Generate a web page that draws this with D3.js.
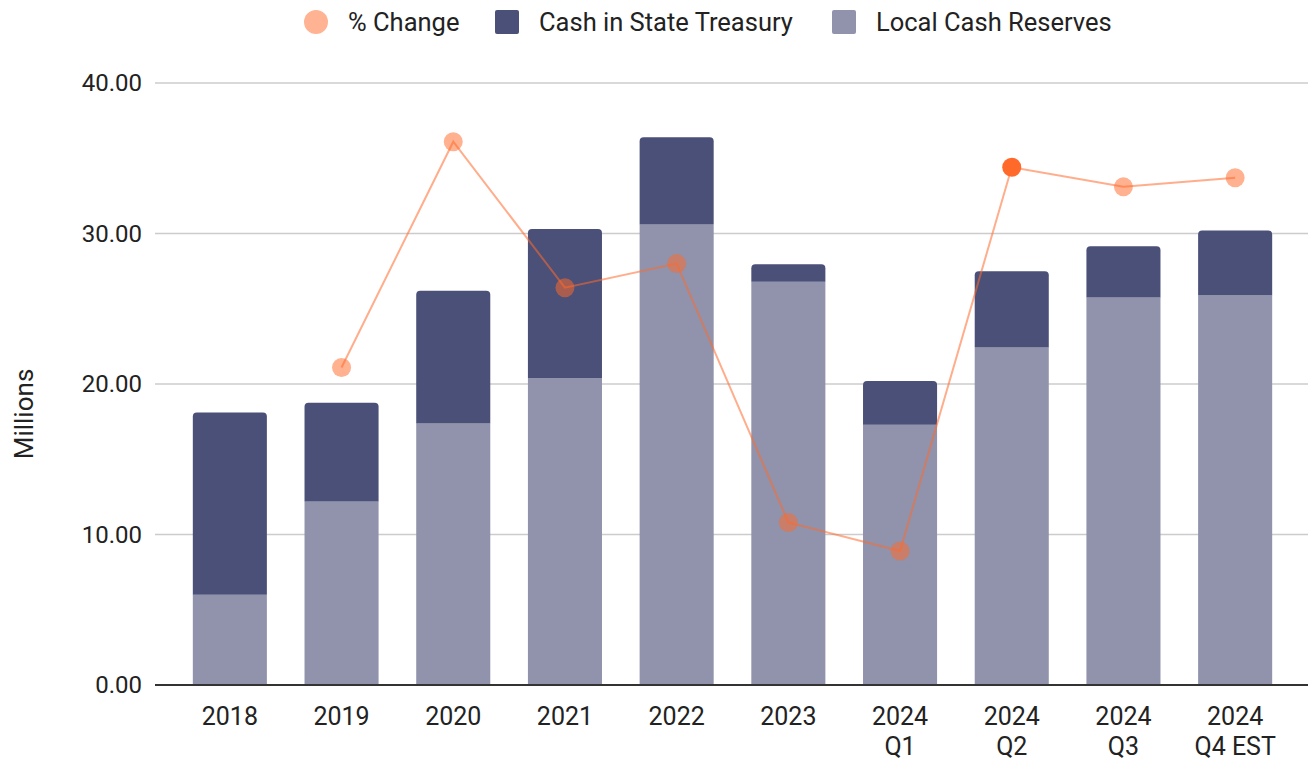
<!DOCTYPE html>
<html>
<head>
<meta charset="utf-8">
<script src="https://cdn.jsdelivr.net/npm/d3@7"></script>
<style>
  body { margin: 0; background: #fff; }
  svg { font-family: Roboto, sans-serif; }
</style>
</head>
<body>
<div id="chart"></div>
<script>
const categories = ['2018', '2019', '2020', '2021', '2022', '2023', '2024 Q1', '2024 Q2', '2024 Q3', '2024 Q4 EST']
const localCash = [6.0, 12.2, 17.4, 20.4, 30.6, 26.8, 17.3, 22.45, 25.75, 25.9]
const stateTreasury = [12.1, 6.55, 8.8, 9.9, 5.8, 1.15, 2.9, 5.05, 3.4, 4.3]
// % change sits on a hidden secondary axis
const pctChange = [null, 21.1, 36.1, 26.4, 28.0, 10.8, 8.9, 34.4, 33.1, 33.7]
const yTicks = [0, 10, 20, 30, 40]
const highlight = '2024 Q2'

const W = 1316
const H = 763
const margin = { top: 83, right: 8, bottom: 78, left: 155 }
const width = W - margin.left - margin.right
const height = H - margin.top - margin.bottom

const colors = { treasury: '#4b5078', local: '#9093ab', pct: '#ff6a2b' }

const data = categories.map((c, i) => ({
  cat: c,
  local: localCash[i],
  treasury: stateTreasury[i],
  pct: pctChange[i]
}))

const svg = d3.select('#chart')
  .append('svg')
  .attr('width', W)
  .attr('height', H)

const g = svg.append('g').attr('transform', `translate(${margin.left},${margin.top})`)

const x = d3.scaleBand().domain(categories).range([19, 1136]).paddingInner(0.337).paddingOuter(0.1685)
const y = d3.scaleLinear().domain([0, 40]).range([height, 0])
const y2 = d3.scaleLinear().domain([0, 40]).range([height, 0])

// gridlines
g.append('g')
  .selectAll('line')
  .data(yTicks.filter((t) => t > 0))
  .enter()
  .append('line')
  .attr('x1', 0)
  .attr('x2', width)
  .attr('y1', (d) => y(d))
  .attr('y2', (d) => y(d))
  .attr('stroke', '#cccccc')
  .attr('stroke-width', 1.5)

// y axis labels
const yAxis = g.append('g')
  .call(d3.axisLeft(y).tickValues(yTicks).tickFormat(d3.format('.2f')).tickSize(0).tickPadding(13))
yAxis.select('.domain').remove()
yAxis.selectAll('text').attr('font-size', 24).attr('fill', '#222').attr('font-family', 'Roboto, sans-serif')

svg.append('text')
  .attr('transform', `translate(33,414) rotate(-90)`)
  .attr('text-anchor', 'middle')
  .attr('font-size', 26)
  .attr('fill', '#222')
  .text('Millions')

// rounded-top rect path
const topRounded = (x0, y0, w, h, r) => {
  r = Math.min(r, h)
  return `M${x0},${y0 + h}V${y0 + r}Q${x0},${y0} ${x0 + r},${y0}H${x0 + w - r}Q${x0 + w},${y0} ${x0 + w},${y0 + r}V${y0 + h}Z`
}

const bars = g.append('g')
bars.selectAll('rect.local')
  .data(data)
  .enter()
  .append('rect')
  .attr('class', 'local')
  .attr('x', (d) => x(d.cat))
  .attr('y', (d) => y(d.local))
  .attr('width', x.bandwidth())
  .attr('height', (d) => y(0) - y(d.local))
  .attr('fill', colors.local)

bars.selectAll('path.treasury')
  .data(data)
  .enter()
  .append('path')
  .attr('class', 'treasury')
  .attr('d', (d) => topRounded(x(d.cat), y(d.local + d.treasury), x.bandwidth(), y(d.local) - y(d.local + d.treasury), 4))
  .attr('fill', colors.treasury)

// baseline
g.append('line')
  .attr('x1', 0)
  .attr('x2', width)
  .attr('y1', y(0))
  .attr('y2', y(0))
  .attr('stroke', '#333')
  .attr('stroke-width', 2)

// x axis labels
const xAxis = g.append('g')
  .attr('transform', `translate(0,${height})`)
  .call(d3.axisBottom(x).tickSize(0).tickPadding(22))
xAxis.select('.domain').remove()
xAxis.selectAll('text')
  .attr('font-size', 25)
  .attr('fill', '#222')
  .attr('font-family', 'Roboto, sans-serif')
  .each(function (t) {
    const el = d3.select(this)
    const parts = t.startsWith('2024') ? ['2024', t.slice(5)] : [t]
    el.text(null)
    parts.forEach((p, i) => {
      el.append('tspan').attr('x', 0).attr('dy', i === 0 ? '0.71em' : '1.2em').text(p)
    })
  })

// % change line
const pctData = data.filter((d) => d.pct != null)
const line = d3.line()
  .x((d) => x(d.cat) + x.bandwidth() / 2)
  .y((d) => y2(d.pct))

g.append('path')
  .datum(pctData)
  .attr('d', line)
  .attr('fill', 'none')
  .attr('stroke', colors.pct)
  .attr('stroke-opacity', 0.55)
  .attr('stroke-width', 2)

g.append('g')
  .selectAll('circle')
  .data(pctData)
  .enter()
  .append('circle')
  .attr('cx', (d) => x(d.cat) + x.bandwidth() / 2)
  .attr('cy', (d) => y2(d.pct))
  .attr('r', 9.5)
  .attr('fill', colors.pct)
  .attr('fill-opacity', (d) => (d.cat === highlight ? 1 : 0.52))

// legend
const legend = svg.append('g').attr('transform', 'translate(0,22)')
const items = [
  { label: '% Change', type: 'circle', color: '#ffb393', x: 316 },
  { label: 'Cash in State Treasury', type: 'rect', color: colors.treasury, x: 507 },
  { label: 'Local Cash Reserves', type: 'rect', color: colors.local, x: 844 }
]
items.forEach((it) => {
  if (it.type === 'circle') {
    legend.append('circle').attr('cx', it.x).attr('cy', 0).attr('r', 12).attr('fill', it.color)
  } else {
    legend.append('rect').attr('x', it.x - 12).attr('y', -12).attr('width', 24).attr('height', 24).attr('rx', 2).attr('fill', it.color)
  }
  legend.append('text')
    .attr('x', it.x + 32)
    .attr('y', 0)
    .attr('dy', '0.35em')
    .attr('font-size', 25.5)
    .attr('fill', '#222')
    .text(it.label)
})
</script>
</body>
</html>
